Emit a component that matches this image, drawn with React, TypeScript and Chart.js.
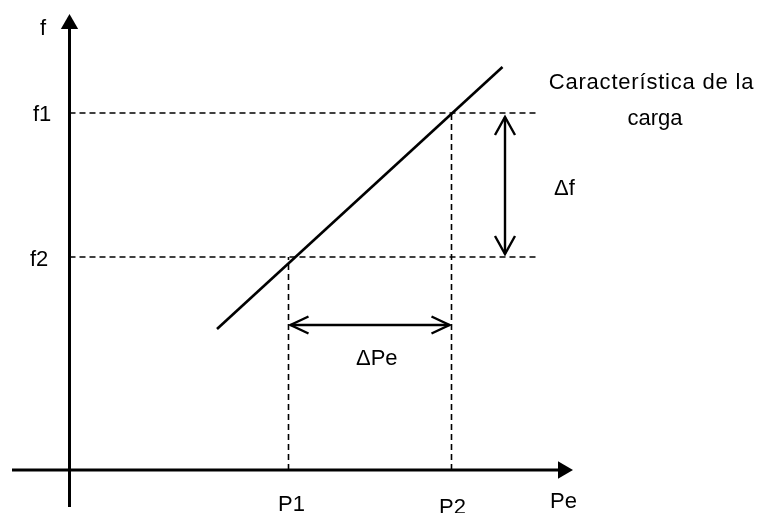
import React, { useEffect, useRef } from "react";
import { Chart, registerables } from "chart.js";

Chart.register(...registerables);

// Schematic values (arbitrary units, origin at the axes crossing)
const axisNames = ["f", "Pe"];
const axisXRange = [-57.5, 503.5];
const axisYRange = [-37, 456];
const levelLabels = ["f1", "f2"];
const levelValues = [357, 213];
const powerLabels = ["P1", "P2"];
const powerValues = [219, 382];
const dashedLevelEnd = 469;
const loadLineX = [147.5, 433];
const loadLineY = [141, 403];
const deltaPeLevel = 145;
const deltaFPosition = 435.5;
const curveCaption = ["Característica de la", "carga"];
const deltaLabels = ["\u0394f", "\u0394Pe"];

const FONT = '"Liberation Sans", Arial, Helvetica, sans-serif';

type Pt = { x: number; y: number };

function lineDs(data: Pt[], width: number, dash: number[] = []) {
  return {
    type: "line" as const,
    data,
    showLine: true,
    borderColor: "#000",
    borderWidth: width,
    borderDash: dash,
    pointRadius: 0,
    pointHoverRadius: 0,
    fill: false,
    tension: 0,
    clip: false as any,
  };
}

function arrowHeads(a: Pt, b: Pt, back: number, half: number): Pt[][] {
  const dx = b.x - a.x;
  const dy = b.y - a.y;
  const len = Math.hypot(dx, dy);
  const ux = dx / len;
  const uy = dy / len;
  const px = -uy;
  const py = ux;
  const head = (tip: Pt, sx: number, sy: number): Pt[] => [
    { x: tip.x - sx * back + px * half, y: tip.y - sy * back + py * half },
    tip,
    { x: tip.x - sx * back - px * half, y: tip.y - sy * back - py * half },
  ];
  return [head(b, ux, uy), head(a, -ux, -uy)];
}

export default function App() {
  const ref = useRef<HTMLCanvasElement | null>(null);

  useEffect(() => {
    if (!ref.current) return;
    const inset = 2;
    const dPeA = { x: powerValues[0] + inset, y: deltaPeLevel };
    const dPeB = { x: powerValues[1] - inset, y: deltaPeLevel };
    const dFA = { x: deltaFPosition, y: levelValues[1] + 3 };
    const dFB = { x: deltaFPosition, y: levelValues[0] - 4 };

    const datasets: any[] = [];
    // axes
    datasets.push(lineDs([{ x: axisXRange[0], y: 0 }, { x: axisXRange[1] - 8, y: 0 }], 3));
    datasets.push(lineDs([{ x: 0, y: axisYRange[0] }, { x: 0, y: axisYRange[1] - 8 }], 3));
    // axis arrow tips
    datasets.push({
      type: "line",
      data: [{ x: 0, y: axisYRange[1] - 10 }],
      showLine: false,
      pointStyle: "triangle",
      pointRadius: 10,
      pointHoverRadius: 10,
      pointRotation: 0,
      pointBackgroundColor: "#000",
      pointBorderWidth: 0,
      clip: false,
    });
    datasets.push({
      type: "line",
      data: [{ x: axisXRange[1] - 10, y: 0 }],
      showLine: false,
      pointStyle: "triangle",
      pointRadius: 10,
      pointHoverRadius: 10,
      pointRotation: 90,
      pointBackgroundColor: "#000",
      pointBorderWidth: 0,
      clip: false,
    });
    // dashed guides
    levelValues.forEach((v) => {
      datasets.push(lineDs([{ x: 0, y: v }, { x: dashedLevelEnd, y: v }], 1.6, [6, 4]));
    });
    powerValues.forEach((p, i) => {
      datasets.push(lineDs([{ x: p, y: 0 }, { x: p, y: levelValues[1 - i] }], 1.6, [6, 4]));
    });
    // load characteristic
    datasets.push(
      lineDs(
        [
          { x: loadLineX[0], y: loadLineY[0] },
          { x: loadLineX[1], y: loadLineY[1] },
        ],
        2.6
      )
    );
    // double arrows
    datasets.push(lineDs([dPeA, dPeB], 2.4));
    arrowHeads(dPeA, dPeB, 18, 8.5).forEach((h) => datasets.push(lineDs(h, 2.4)));
    datasets.push(lineDs([dFA, dFB], 2.4));
    arrowHeads(dFA, dFB, 18, 10).forEach((h) => datasets.push(lineDs(h, 2.4)));

    const texts = [
      { t: axisNames[0], x: -29.5, y: 435, a: "left", s: 0 },
      { t: axisNames[1], x: 480.5, y: -38, a: "left", s: 0 },
      { t: levelLabels[0], x: -36.5, y: levelValues[0] - 8, a: "left", s: 0 },
      { t: levelLabels[1], x: -39.5, y: levelValues[1] - 9, a: "left", s: 0 },
      { t: powerLabels[0], x: powerValues[0] + 3, y: -41, a: "center", s: 0 },
      { t: powerLabels[1], x: powerValues[1] + 1, y: -44, a: "center", s: 0 },
      { t: deltaLabels[0], x: 484.5, y: 275, a: "left", s: 0 },
      { t: deltaLabels[1], x: 286.5, y: 105, a: "left", s: 0 },
      { t: curveCaption[0], x: 582, y: 381, a: "center", s: 0.8 },
      { t: curveCaption[1], x: 585.5, y: 345, a: "center", s: 0 },
    ];

    const labelPlugin = {
      id: "diagramLabels",
      afterDatasetsDraw(chart: any) {
        const { ctx, scales } = chart;
        ctx.save();
        ctx.fillStyle = "#000";
        ctx.font = `22px ${FONT}`;
        ctx.textBaseline = "alphabetic";
        texts.forEach((l) => {
          ctx.textAlign = l.a;
          (ctx as any).letterSpacing = `${l.s}px`;
          ctx.fillText(l.t, scales.x.getPixelForValue(l.x), scales.y.getPixelForValue(l.y));
        });
        ctx.restore();
      },
    };

    const chart = new Chart(ref.current, {
      type: "scatter",
      data: { datasets },
      options: {
        animation: false,
        responsive: false,
        maintainAspectRatio: false,
        layout: { padding: 0, autoPadding: false },
        plugins: { legend: { display: false }, tooltip: { enabled: false } },
        events: [],
        scales: {
          x: { type: "linear", display: false, min: -69.5, max: 688.5 },
          y: { type: "linear", display: false, min: -43, max: 470 },
        },
      },
      plugins: [labelPlugin],
    } as any);
    return () => chart.destroy();
  }, []);

  return (
    <div style={{ position: "absolute", left: 0, top: 0, width: 758, height: 513, background: "#fff" }}>
      <canvas ref={ref} width={758} height={513} style={{ display: "block" }} />
    </div>
  );
}
